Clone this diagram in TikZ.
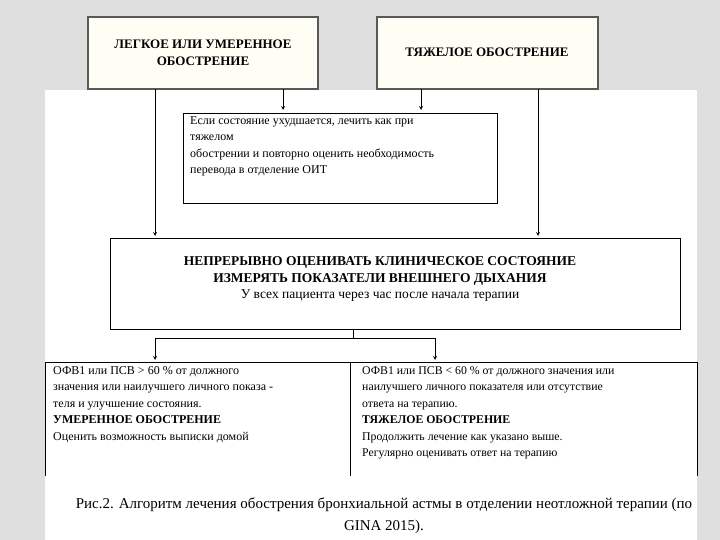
\documentclass[tikz,border=0pt]{standalone}
\usepackage{fontspec}
\setmainfont{Liberation Serif}
\begin{document}
\begin{tikzpicture}[x=1pt,y=-1pt,
  topbox/.style={draw=gray!70!black,line width=1.5pt,fill=yellow!4},
  box/.style={draw=black,line width=0.6pt},
  arr/.style={-stealth,line width=0.8pt},
  ln/.style={line width=0.6pt},
  txt/.style={font=\fontsize{12}{16.5}\selectfont,align=left,anchor=north west,inner sep=0pt}]
\useasboundingbox (0,0) rectangle (720,540);
\fill[gray!25] (0,0) rectangle (720,540);
\fill[white] (45,90) rectangle (697,540);
\draw[topbox] (88,17) rectangle (318,89);
\draw[topbox] (377,17) rectangle (598,89);
\node[font=\bfseries\fontsize{13}{17}\selectfont,align=center] (a) at (203,53) {ЛЕГКОЕ ИЛИ УМЕРЕННОЕ\\ОБОСТРЕНИЕ};
\node[font=\bfseries\fontsize{13}{17}\selectfont] (b) at (487,52) {ТЯЖЕЛОЕ ОБОСТРЕНИЕ};
\coordinate (a1) at (283,89); \coordinate (a2) at (283,110);
\coordinate (b1) at (421,89); \coordinate (b2) at (421,110);
\draw[arr] (a1) -- (a2); \draw[arr] (b1) -- (b2);
\draw[box] (183,113) rectangle (497,203);
\node[txt] (m) at (190,116) {Если состояние ухудшается, лечить как при\\тяжелом\\обострении и повторно оценить необходимость\\перевода в отделение ОИТ};
\coordinate (c1) at (155,89); \coordinate (c2) at (155,236);
\coordinate (d1) at (538,89); \coordinate (d2) at (538,236);
\draw[arr] (c1) -- (c2); \draw[arr] (d1) -- (d2);
\draw[box] (110,238) rectangle (680,329);
\node[font=\fontsize{13.5}{16.5}\selectfont,align=center] (big) at (380,279) {\textbf{НЕПРЕРЫВНО ОЦЕНИВАТЬ КЛИНИЧЕСКОЕ СОСТОЯНИЕ}\\\textbf{ИЗМЕРЯТЬ ПОКАЗАТЕЛИ ВНЕШНЕГО ДЫХАНИЯ}\\У всех пациента через час после начала терапии};
\coordinate (s1) at (353,329); \coordinate (s2) at (353,338);
\coordinate (l) at (155,338); \coordinate (r) at (435,338);
\coordinate (l2) at (155,360); \coordinate (r2) at (435,360);
\draw[ln] (s1) -- (s2) (l) -- (r);
\draw[arr] (l) -- (l2); \draw[arr] (r) -- (r2);
\draw[ln] (45,362) -- (697,362) (45,362) -- (45,476) (350,362) -- (350,476) (697,362) -- (697,476);
\node[txt] (p) at (53,366) {ОФВ1 или ПСВ > 60 \% от должного\\значения или наилучшего личного показа -\\теля и улучшение состояния.\\\textbf{УМЕРЕННОЕ ОБОСТРЕНИЕ}\\Оценить возможность выписки домой};
\node[txt,font=\fontsize{11.8}{16.5}\selectfont] (q) at (362,366) {ОФВ1 или ПСВ < 60 \% от должного значения или\\наилучшего личного показателя или отсутствие\\ответа на терапию.\\\textbf{ТЯЖЕЛОЕ ОБОСТРЕНИЕ}\\Продолжить лечение как указано выше.\\Регулярно оценивать ответ на терапию};
\node[font=\fontsize{15}{22}\selectfont,align=center] (cap) at (384,516) {Рис.2. Алгоритм лечения обострения бронхиальной астмы в отделении неотложной терапии (по\\GINA 2015).};
\end{tikzpicture}
\end{document}
